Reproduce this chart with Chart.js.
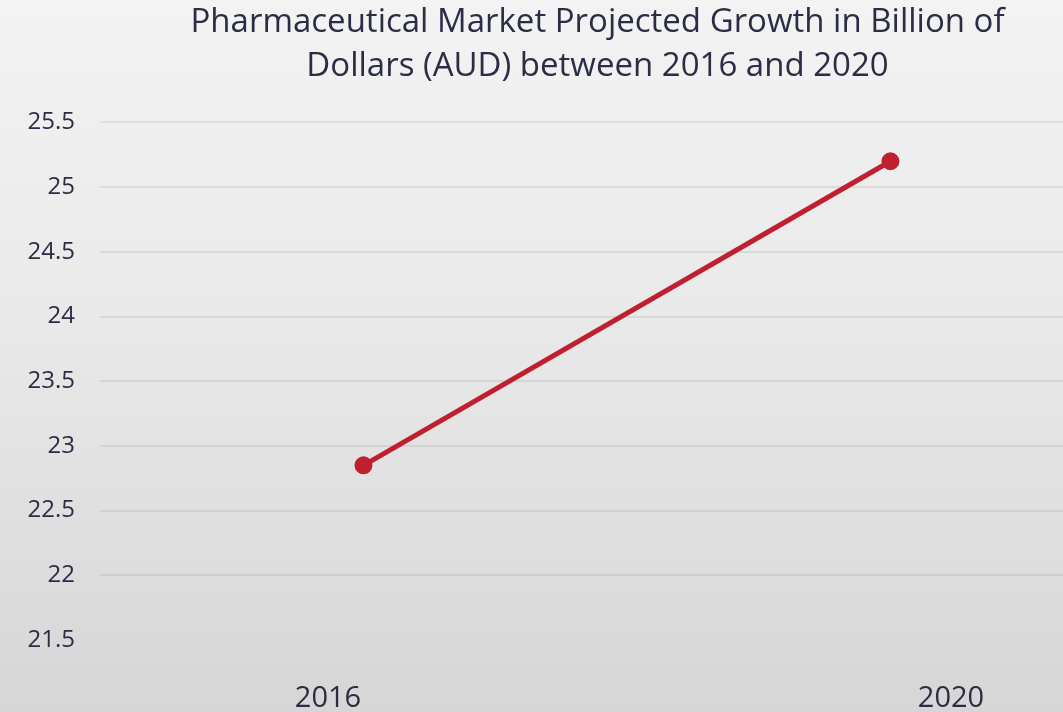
<!DOCTYPE html>
<html>
<head>
<meta charset="utf-8">
<script src="https://cdn.jsdelivr.net/npm/chart.js@4/dist/chart.umd.min.js"></script>
<style>
  html, body { margin: 0; padding: 0; }
  body {
    width: 1063px; height: 712px; overflow: hidden;
    background: linear-gradient(to bottom, #f3f3f3 0%, #e9e9e9 45%, #d6d6d6 100%);
  }
  #wrap { width: 1063px; height: 712px; }
</style>
</head>
<body>
<div id="wrap"><canvas id="growthChart" width="1063" height="712"></canvas></div>
<script>
// Pharmaceutical market projection
const years = ['2016', '2020'];
const yearValues = [2016, 2020];
const marketValues = [22.85, 25.2];
const yTicks = [21.5, 22, 22.5, 23, 23.5, 24, 24.5, 25, 25.5];

const textColor = '#2b2d45';
const lineColor = '#c01f30';
const fontFamily = '"Open Sans", "Noto Sans", sans-serif';

const ctx = document.getElementById('growthChart').getContext('2d');

// nudge the title a bit to the right, like the original
const titleShift = {
  id: 'titleShift',
  afterLayout(chart) {
    if (chart.titleBlock) {
      chart.titleBlock.left += 16;
      chart.titleBlock.right += 16;
    }
  }
};

new Chart(ctx, {
  type: 'line',
  data: {
    datasets: [{
      label: 'Market',
      data: yearValues.map((x, i) => ({ x: x, y: marketValues[i] })),
      xAxisID: 'x',
      yAxisID: 'y',
      borderColor: lineColor,
      backgroundColor: lineColor,
      borderWidth: 5,
      pointRadius: 6.5,
      pointHoverRadius: 7,
      tension: 0
    }]
  },
  plugins: [titleShift],
  options: {
    responsive: false,
    animation: false,
    layout: { autoPadding: false, padding: 0 },
    plugins: {
      legend: { display: false },
      tooltip: { enabled: false },
      title: {
        display: true,
        fullSize: false,
        text: ['Pharmaceutical Market Projected Growth in Billion of', 'Dollars (AUD) between 2016 and 2020'],
        color: textColor,
        font: { family: fontFamily, size: 33, weight: 'normal', lineHeight: 1.34 },
        padding: { top: 0, bottom: 34 }
      }
    },
    scales: {
      // data axis (hidden)
      x: {
        type: 'linear',
        display: false,
        min: 2014,
        max: 2021.31,
        ticks: { display: false }
      },
      // label axis
      xl: {
        type: 'linear',
        position: 'bottom',
        min: 2014.536,
        max: 2020.719,
        afterBuildTicks: (axis) => { axis.ticks = yearValues.map(v => ({ value: v })); },
        afterFit: (axis) => { axis.height = 72; },
        ticks: {
          color: textColor,
          font: { family: fontFamily, size: 29 },
          padding: 41,
          maxRotation: 0,
          callback: (v) => years[yearValues.indexOf(v)]
        },
        grid: { display: false, drawTicks: false },
        border: { display: false }
      },
      y: {
        min: 21.5,
        max: 25.5,
        afterBuildTicks: (axis) => { axis.ticks = yTicks.map(v => ({ value: v })); },
        afterFit: (axis) => { axis.width = 100; },
        ticks: {
          color: textColor,
          font: { family: fontFamily, size: 24 },
          padding: 25,
          callback: (v) => String(v)
        },
        grid: {
          drawTicks: false,
          lineWidth: 2,
          color: (c) => (c.tick && c.tick.value === 21.5) ? 'rgba(0,0,0,0)' : 'rgba(0,0,0,0.07)'
        },
        border: { display: false }
      }
    }
  }
});
</script>
</body>
</html>
